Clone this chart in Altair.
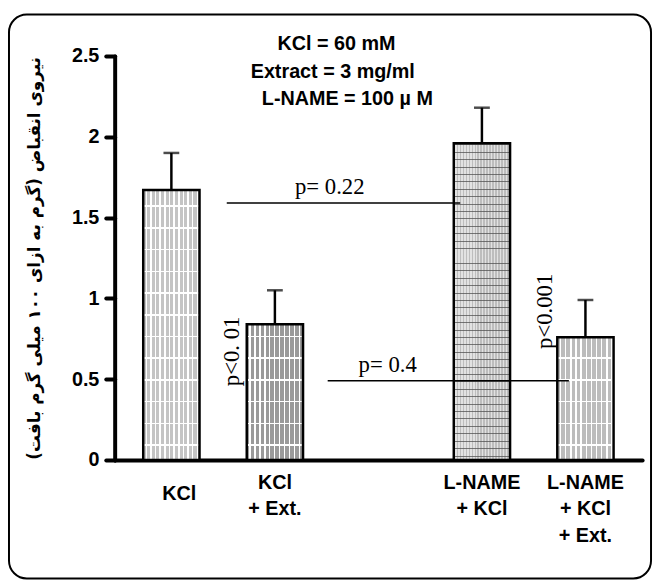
import altair as alt
import pandas as pd

# ---------------- data ----------------
groups = ["KCl", "KCl\n+ Ext.", "L-NAME\n+ KCl", "L-NAME\n+ KCl\n+ Ext."]
positions = [1, 2, 4, 5]
means = [1.67, 0.84, 1.96, 0.76]
sems = [0.23, 0.21, 0.22, 0.23]

sig_labels = ["p= 0.22", "p= 0.4"]
sig_start = [1.535, 2.51]
sig_end = [3.79, 4.84]
sig_level = [1.59, 0.49]
sig_text_x = [2.53, 3.09]
sig_text_y = [1.645, 0.544]

vert_labels = ["p<0. 01", "p<0.001"]
vert_x = [1.657, 4.68]
vert_y = [0.672, 0.92]

cond_lines = ["KCl = 60 mM", "Extract = 3 mg/ml", "L-NAME = 100 \u00b5 M"]
cond_x = [2.596, 2.559, 2.70]
cond_y = [2.537, 2.366, 2.194]

y_title = "\u0646\u06cc\u0631\u0648\u06cc \u0627\u0646\u0642\u0628\u0627\u0636 (\u06af\u0631\u0645 \u0628\u0647 \u0627\u0632\u0627\u06cc \u06f1\u06f0\u06f0 \u0645\u06cc\u0644\u06cc \u06af\u0631\u0645 \u0628\u0627\u0641\u062a)\u200f"

# ---------------- layout constants ----------------
W, H = 534, 409
YMAX = 2.5
PX_PER_UNIT = H / YMAX
BAR_W = 57

bars = pd.DataFrame({"pos": positions, "mean": means, "sem": sems, "label": groups})
bars["top"] = bars["mean"] + bars["sem"]
sig = pd.DataFrame({"x": sig_start, "x2": sig_end, "y": sig_level,
                    "tx": sig_text_x, "ty": sig_text_y, "t": sig_labels})
vert = pd.DataFrame({"x": vert_x, "y": vert_y, "t": vert_labels})
cond = pd.DataFrame({"x": cond_x, "y": cond_y, "t": cond_lines})

xs = alt.Scale(domain=[0.5, 5.5], nice=False, zero=False)
ys = alt.Scale(domain=[0, YMAX], nice=False)


def vstops(width, period, lw, base, line):
    stops = [(0.0, base)]
    x = period / 2
    while x + lw < width:
        a, b = x / width, (x + lw) / width
        stops += [(a, base), (a, line), (b, line), (b, base)]
        x += period
    stops.append((1.0, base))
    return alt.LinearGradient(gradient="linear", x1=0, y1=0, x2=1, y2=0,
                              stops=[alt.GradientStop(color=c, offset=o) for o, c in stops])


def hstops(height, period, phase, lw, line):
    clear = "rgba(255,255,255,0)"
    ds = []
    d = phase
    while d < height - lw:
        ds.append(d)
        d += period
    stops = [(0.0, clear)]
    for d in reversed(ds):
        a = (height - d - lw / 2) / height
        b = (height - d + lw / 2) / height
        stops += [(a, clear), (a, line), (b, line), (b, clear)]
    stops.append((1.0, clear))
    return alt.LinearGradient(gradient="linear", x1=0, y1=0, x2=0, y2=1,
                              stops=[alt.GradientStop(color=c, offset=o) for o, c in stops])


styles = [
    dict(base="#c4c4c4", vline="#ffffff", vp=4.7, vw=1.5, hline="#ffffff", hp=22, hw=1.5, ph=15),
    dict(base="#9a9a9a", vline="#ffffff", vp=5.0, vw=1.5, hline="#ffffff", hp=22, hw=1.5, ph=15),
    dict(base="#bdbdbd", vline="#e2e2e2", vp=3.0, vw=1.5, hline="rgba(80,80,80,0.75)", hp=7.5, hw=1.0, ph=4),
    dict(base="#bcbcbc", vline="#ffffff", vp=5.2, vw=1.5, hline="#ffffff", hp=22, hw=1.5, ph=15),
]

base = alt.Chart(bars)
layers = []
for p, m, st in zip(positions, means, styles):
    hpx = m * PX_PER_UNIT
    sub = base.transform_filter(alt.datum.pos == p)
    layers.append(sub.mark_bar(size=BAR_W, fill=vstops(BAR_W, st["vp"], st["vw"], st["base"], st["vline"]))
                  .encode(x=alt.X("pos:Q", scale=xs), y=alt.Y("mean:Q", scale=ys)))
    layers.append(sub.mark_bar(size=BAR_W, fill=hstops(hpx, st["hp"], st["ph"], st["hw"], st["hline"]),
                               stroke="black", strokeWidth=2.5)
                  .encode(x=alt.X("pos:Q", scale=xs), y=alt.Y("mean:Q", scale=ys)))

err = base.mark_rule(color="black", strokeWidth=2.5).encode(
    x=alt.X("pos:Q", scale=xs), y=alt.Y("mean:Q", scale=ys), y2="top:Q")
cap = base.mark_tick(orient="horizontal", size=16, thickness=2.5, color="black").encode(
    x=alt.X("pos:Q", scale=xs), y=alt.Y("top:Q", scale=ys))

xlab_font = dict(font="Liberation Sans", fontSize=20, fontWeight="bold", lineBreak="\n",
                 lineHeight=27, baseline="alphabetic", align="center", color="black")
xlab_main = base.transform_filter(alt.datum.pos != 1).mark_text(**xlab_font).encode(
    x=alt.X("pos:Q", scale=xs), y=alt.value(H + 29), text="label:N")
xlab_first = base.transform_filter(alt.datum.pos == 1).mark_text(dx=8, **xlab_font).encode(
    x=alt.X("pos:Q", scale=xs), y=alt.value(H + 41), text="label:N")

sig_rule = alt.Chart(sig).mark_rule(color="black", strokeWidth=1.5).encode(
    x=alt.X("x:Q", scale=xs), x2="x2:Q", y=alt.Y("y:Q", scale=ys))
sig_text = alt.Chart(sig).mark_text(font="Liberation Serif", fontSize=23, baseline="alphabetic",
                                    align="center", color="black").encode(
    x=alt.X("tx:Q", scale=xs), y=alt.Y("ty:Q", scale=ys), text="t:N")
vert_text = alt.Chart(vert).mark_text(font="Liberation Serif", fontSize=23, baseline="alphabetic",
                                      align="center", angle=270, color="black").encode(
    x=alt.X("x:Q", scale=xs), y=alt.Y("y:Q", scale=ys), text="t:N")
cond_text = alt.Chart(cond).mark_text(font="Liberation Sans", fontSize=20, fontWeight="bold",
                                      baseline="alphabetic", align="center", color="black").encode(
    x=alt.X("x:Q", scale=xs), y=alt.Y("y:Q", scale=ys), text="t:N")

frame = alt.Chart(pd.DataFrame({"f": [0]})).mark_rect(
    fillOpacity=0, stroke="black", strokeWidth=2, cornerRadius=18).encode(
    x=alt.value(-107), x2=alt.value(543), y=alt.value(-42), y2=alt.value(529))

axes_layer = alt.Chart(bars).mark_point(opacity=0).encode(
    x=alt.X("pos:Q", scale=xs,
            axis=alt.Axis(title=None, labels=False, ticks=False, grid=False,
                          domainWidth=4, domainColor="black", domainCap="round")),
    y=alt.Y("mean:Q", scale=ys,
            axis=alt.Axis(title=y_title, values=[0, 0.5, 1, 1.5, 2, 2.5], format="~g",
                          grid=False, domainWidth=4, domainColor="black", domainCap="round",
                          tickWidth=4, tickSize=9, tickColor="black", tickCap="round",
                          labelFont="Liberation Sans", labelFontSize=20, labelFontWeight="bold",
                          labelColor="black", labelPadding=7,
                          titleFont="DejaVu Sans", titleFontSize=17, titleFontWeight="bold",
                          titleColor="black", titleAngle=270, titleX=-81, titleY=H / 2,
                          titleAlign="center", titleBaseline="middle")),
)

chart = alt.layer(axes_layer, *layers, err, cap, sig_rule, sig_text, vert_text, cond_text,
                  xlab_main, xlab_first, frame).properties(
    width=W, height=H,
    autosize=alt.AutoSizeParams(type="none"),
    padding={"left": 108, "top": 45, "right": 11, "bottom": 123},
    background="white",
).configure_view(strokeWidth=0)

chart.save("out.html", embed_options={"renderer": "svg", "actions": False})
